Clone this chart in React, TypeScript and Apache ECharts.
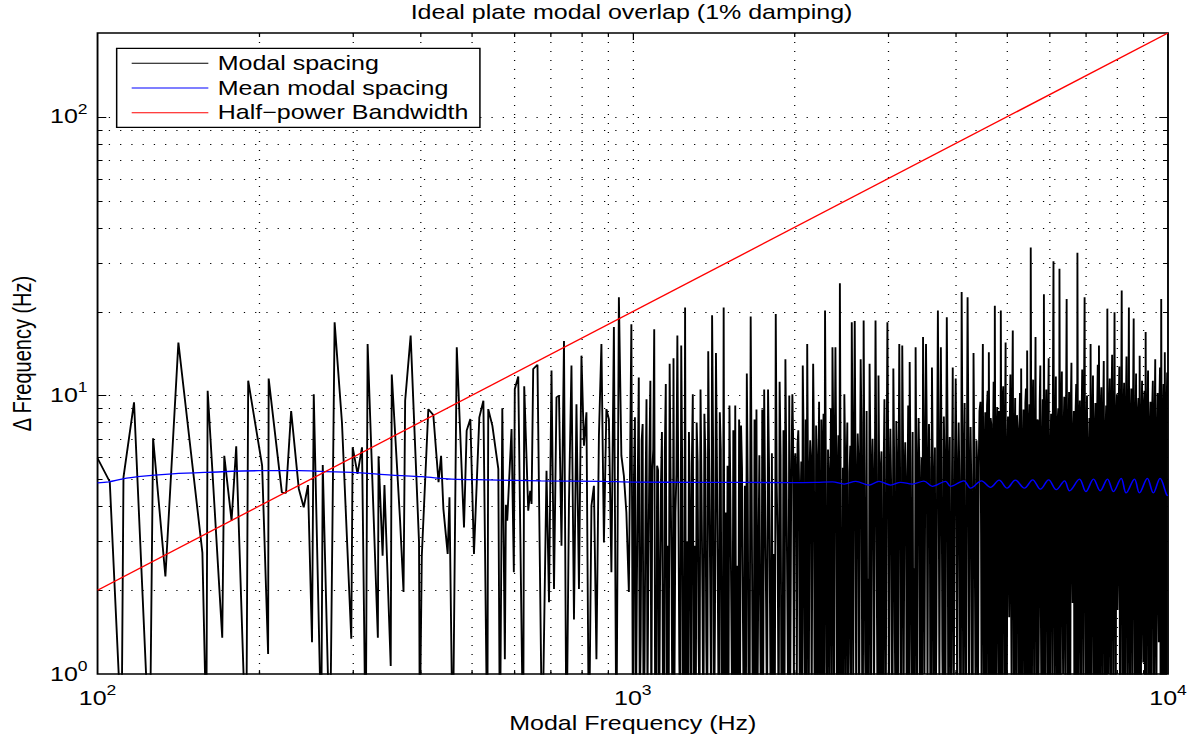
import React, { useEffect, useRef } from "react";
import * as echarts from "echarts";

const FONT = '"Liberation Sans", Arial, Helvetica, sans-serif';
const PAGE_W = 1193;
const CHART_W = 954;
const CHART_H = 738;
const STRETCH = PAGE_W / CHART_W;

const TITLE = "Ideal plate modal overlap (1% damping)";
const X_NAME = "Modal Frequency (Hz)";
const Y_NAME = "\u0394 Frequency (Hz)";
const SERIES_NAMES = ["Modal spacing", "Mean modal spacing", "Half\u2212power Bandwidth"];

const X_RANGE = [100, 10000];
const Y_RANGE = [1, 200];
const X_GRID_MAJOR = [1000];
const X_GRID_MINOR = [200, 300, 400, 500, 600, 700, 800, 900, 2000, 3000, 4000, 5000, 6000, 7000, 8000, 9000];
const Y_GRID_MAJOR = [10, 100];
const Y_GRID_MINOR = [2, 3, 4, 5, 6, 7, 8, 9, 20, 30, 40, 50, 60, 70, 80, 90];

// Modal spacing (Hz) read pair-by-pair in the sparse low-frequency part
const modalSpacingLow: [number, number][] = [
  [100, 5.95], [105.4, 4.9], [110.9, 0.6], [111.8, 5.08], [117, 9.45], [125.2, 0.5], [127, 7.02],
  [133.9, 2.24], [141.6, 15.5], [157, 2.73], [159.7, 0.6], [160.6, 10.4], [171, 1.35], [172.5, 6.08],
  [178, 3.55], [181.6, 6.57], [189.6, 0.5], [191.2, 11.3], [203, 5.6], [208.3, 1.18], [208.8, 11.5],
  [221, 4.49], [225, 4.47], [230, 8.8], [237.7, 4.62], [242.8, 3.97], [247.3, 4.77], [251.6, 1.3],
  [253.5, 10.1], [261.8, 0.6], [263.5, 5.63], [271.8, 0.5], [277.3, 18.3], [286.2, 8.0], [297.9, 1.34],
  [299.7, 6.52], [306, 5.23], [312, 6.52], [317, 0.5], [319.6, 15.3], [334, 1.35], [335, 6.05],
  [340.9, 2.66], [343.6, 4.77], [353, 1.07], [354.6, 11.9], [367.5, 3.55], [373, 1.97], [375.6, 9.58],
  [384.6, 16.4], [398.7, 2.97], [400, 0.6], [403.5, 2.66], [415, 8.94], [424, 8.51], [433.6, 4.88],
  [438.4, 6.08], [442.8, 3.91], [451, 2.7], [454.5, 4.31], [461, 0.5], [469, 14.9], [483.8, 3.36],
  [489.4, 7.48], [497.2, 8.23], [505, 2.7], [516.8, 8.35], [525.9, 9.58], [534.9, 0.5], [537, 8.94],
  [546.6, 7.79], [560.8, 5.45], [564.7, 0.5], [570.5, 9.0], [576.8, 1.13], [579.4, 4.05], [582.7, 3.55],
  [593.6, 7.58], [599.5, 2.32], [602, 10.55], [611, 11.7], [624.2, 0.5], [626.9, 10.8], [637.8, 3.86],
  [643.3, 4.55], [647, 4.08], [651.6, 12.45], [663.7, 12.9], [677.3, 0.5],
];

// Dense part: frequency band limits (Hz) and the spacing values read across each band.
// Bands 2-4 are read as two interleaved passes (A: visible spikes/dips, B: values between them).
const bandRanges: [number, number][] = [[690, 994], [1001, 1977], [1987, 4444], [4463, 9966]];
const modalBand1 = [
  5.37, 1.81, 12.3, 2.02, 9.85, 10.0, 2.89, 15.7, 0.5, 4.14, 12.8, 1.57, 9.3, 2.02, 13.9, 6.6, 8.7, 0.5,
  4.02, 4.74, 1.13, 7.18, 15.3, 2.97, 8.94, 8.23, 2.32, 17.6, 0.5, 22.5, 6.08, 5.15, 3.8, 1.97, 18.0,
];
const modalBand2A = [
  0.5, 8.35, 2.02, 11.6, 1.34, 7.9, 1.13, 9.7, 2.52, 11.3, 5.4, 17.3, 0.5, 5.4, 2.02, 7.4, 0.5, 11.0,
  2.89, 13.0, 2.19, 13.6, 3.8, 16.4, 1.13, 15.1, 0.5, 20.7, 3.0, 7.4, 0.5, 10.1, 2.89, 8.0, 1.3, 10.5,
  1.9, 8.6, 1.3, 14.4, 2.19, 19.4, 0.5, 14.2, 1.85, 8.7, 0.5, 20.7, 3.8, 5.6, 9.2, 1.53, 7.5, 9.2, 2.45,
  8.2, 7.8, 1.53, 4.74, 12.0, 0.5, 19.2, 0.9, 8.2, 8.9, 2.52, 1.34, 8.9, 10.5, 1.75, 10.5, 1.79, 6.2,
  2.7, 19.6, 2.89, 11.2, 0.5, 7.5, 13.5, 1.85, 10.0, 4.74,
];
const modalBand2B = [
  5.1, 0.6, 5.2, 0.7, 6.9, 0.5, 4.4, 0.8, 6.0, 0.6, 6.4, 0.6, 5.6, 0.5, 4.8, 0.9, 6.3, 0.6, 0.7, 5.1,
  0.5, 0.9, 5.2, 4.6, 0.6, 5.6, 0.7, 0.6, 0.5, 4.0, 5.7, 0.6, 0.5, 5.8, 0.7, 4.9, 0.5, 6.2, 0.6, 5.5,
  0.7, 7.0, 1.6, 5.8, 0.5, 6.4, 0.6, 0.6, 0.5, 0.8, 4.2, 0.6, 0.5, 0.7, 0.5, 0.9, 5.5, 0.5, 0.6, 4.5,
  0.9, 5.0, 0.5, 0.6, 0.7, 6.1, 0.5, 0.9, 4.1, 0.6, 5.7, 0.5, 0.7, 0.6, 4.8, 0.5, 6.1, 0.7, 0.6, 5.3,
  0.6, 0.8,
];
const modalBand3A = [
  10.1, 0.8, 6.2, 0.9, 7.5, 0.6, 5.8, 12.8, 1.4, 8.2, 15.3, 0.5, 6.9, 0.7, 13.0, 0.7, 7.8, 0.6, 9.5, 1.5,
  0.5, 8.6, 20.2, 1.1, 6.4, 0.8, 9.0, 14.9, 0.6, 14.9, 0.6, 7.2, 25.3, 0.5, 5.5, 10.1, 0.7, 8.0, 1.2, 6.6,
  18.3, 0.9, 18.5, 0.6, 7.3, 0.5, 13.5, 0.9, 18.6, 1.2, 8.8, 2.2, 13.0, 0.6, 7.0, 0.7, 18.6, 1.5, 11.8, 0.5,
  6.3, 0.8, 9.7, 1.0, 18.3, 0.6, 7.6, 0.7, 12.5, 1.4, 8.1, 0.5, 15.3, 0.6, 15.1, 0.9, 6.8, 0.6, 9.2, 13.2,
  1.3, 7.4, 2.4, 14.9, 0.5, 8.3, 0.6, 6.0, 16.2, 1.0, 15.3, 0.8, 7.9, 0.5, 12.6, 0.7, 6.5, 1.4, 20.2, 0.8,
  14.9, 1.2, 8.4, 0.5, 19.1, 0.6, 7.1, 1.1, 12.6, 1.6, 11.5, 0.6, 8.0, 0.7, 23.5, 0.9, 9.4, 0.8, 22.5, 0.5,
  7.7, 0.6, 14.2, 1.9, 6.9, 0.7, 8.8,
];
const modalBand3B = [
  7.1, 5.5, 4.8, 6.7, 4.9, 4.0, 0.7, 7.5, 0.6, 0.9, 5.3, 5.0, 5.9, 4.2, 7.0, 0.6, 5.9, 4.6, 0.6, 8.2,
  6.0, 0.6, 6.2, 0.5, 5.2, 4.4, 0.8, 7.8, 5.7, 6.5, 4.9, 0.5, 5.1, 0.9, 0.6, 6.4, 5.3, 0.7, 5.3, 0.5,
  7.4, 5.6, 5.8, 4.1, 5.8, 4.7, 8.0, 0.6, 5.4, 0.7, 0.6, 0.9, 6.6, 5.1, 4.7, 4.3, 6.1, 0.5, 5.0, 5.4,
  0.6, 5.5, 0.7, 5.9, 7.1, 4.5, 4.8, 0.9, 6.3, 0.6, 5.6, 4.8, 5.7, 0.8, 7.2, 5.0, 4.6, 4.2, 0.5, 6.0,
  0.6, 0.7, 0.9, 5.2, 5.3, 5.6, 4.0, 0.6, 6.8, 5.8, 7.6, 4.7, 5.5, 0.9, 6.1, 4.4, 0.6, 6.0, 6.9, 4.1,
  5.9, 0.6, 5.7, 4.5, 7.7, 5.2, 0.7, 5.1, 0.6, 5.8, 5.9, 4.3, 4.9, 0.8, 7.3, 5.4, 0.6, 5.4, 7.9, 4.6,
  4.8, 0.9, 6.5, 0.6, 5.6, 5.5,
];
const modalBand4A = [
  9.5, 0.6, 15.3, 0.7, 8.7, 0.5, 10.4, 14.3, 0.8, 7.9, 0.5, 11.2, 21.0, 0.5, 9.1, 0.9, 7.2, 20.2, 0.7, 10.8,
  0.6, 15.5, 0.5, 8.4, 1.6, 11.9, 0.9, 17.1, 0.5, 9.8, 0.7, 7.6, 0.6, 10.2, 12.5, 0.8, 8.9, 0.5, 10.6, 14.5,
  0.5, 9.3, 34.0, 0.7, 11.4, 0.6, 16.2, 0.5, 8.1, 2.1, 12.8, 0.6, 9.7, 23.1, 0.9, 10.5, 0.6, 13.6, 0.5, 8.6,
  0.8, 30.3, 0.6, 11.7, 0.5, 9.0, 28.5, 0.5, 12.2, 1.0, 9.9, 0.7, 22.2, 0.6, 10.3, 0.5, 13.1, 1.8, 8.8, 0.8,
  11.0, 32.5, 0.5, 9.6, 0.7, 12.4, 0.6, 22.5, 0.9, 10.0, 0.5, 8.3, 15.3, 0.9, 11.8, 0.6, 9.4, 0.5, 12.9, 15.1,
  0.7, 10.7, 0.5, 13.3, 0.5, 9.2, 20.5, 1.0, 11.5, 0.6, 14.0, 0.7, 19.9, 0.5, 10.1, 2.5, 12.7, 0.8, 23.8, 0.5,
  11.1, 0.6, 13.8, 0.6, 20.7, 0.7, 10.6, 0.5, 18.9, 0.9, 12.0, 0.6, 9.8, 13.9, 0.5, 11.3, 1.1, 10.4, 16.9, 0.7,
  12.3, 0.5, 9.5, 0.5, 11.3, 0.8, 13.5, 0.6, 10.2, 1.3, 12.6, 22.2, 0.5, 11.0, 14.3, 0.8, 12.1,
];
const modalBand4B = [
  3.2, 7.8, 2.1, 6.4, 0.5, 9.2, 0.6, 4.5, 8.3, 0.6, 6.9, 0.7, 3.7, 7.1, 1.9, 8.8, 0.5, 4.9, 9.6, 2.6,
  7.5, 1.3, 6.2, 3.0, 8.0, 2.2, 9.1, 3.5, 6.7, 1.4, 8.5, 2.8, 7.3, 0.5, 3.9, 6.1, 1.7, 9.4, 0.6, 4.2,
  7.7, 0.8, 5.3, 8.6, 2.0, 7.0, 3.3, 8.2, 0.9, 9.5, 1.6, 6.6, 0.5, 4.0, 7.9, 2.4, 8.7, 1.2, 6.3, 3.1,
  9.8, 2.7, 7.4, 1.8, 8.1, 0.6, 4.6, 9.0, 2.3, 7.6, 1.5, 8.4, 3.6, 6.8, 1.1, 9.3, 2.9, 7.2, 0.5, 8.9,
  0.6, 4.4, 7.8, 1.9, 8.3, 2.5, 9.7, 3.4, 7.1, 1.3, 6.5, 0.6, 4.8, 8.0, 2.1, 7.7, 1.0, 8.8, 0.7, 3.8,
  9.1, 1.6, 8.5, 2.6, 7.3, 0.5, 4.1, 8.6, 1.4, 9.6, 2.2, 7.5, 3.0, 8.2, 1.7, 9.3, 0.9, 7.9, 3.7, 8.7,
  1.2, 9.0, 2.8, 7.4, 1.5, 8.4, 2.0, 9.9, 3.2, 7.0, 1.1, 8.8, 0.6, 4.3, 7.6, 1.8, 9.4, 0.5, 3.5, 8.3,
  2.4, 7.8, 1.3, 9.2, 2.9, 8.0, 1.6, 7.3, 2.2, 9.5, 0.6, 3.9, 8.1, 0.7, 4.7, 8.9,
];

// Mean modal spacing (Hz)
const meanSpacing: [number, number][] = [
  [100, 4.86], [105, 4.9], [111, 5.01], [119, 5.11], [138, 5.23], [161, 5.3], [200, 5.37], [238, 5.37],
  [266, 5.33], [298, 5.3], [355, 5.18], [404, 5.11], [459, 5.01], [536, 4.98], [674, 4.94], [875, 4.92],
  [1000, 4.89], [1340, 4.88], [1980, 4.87], [2200, 4.88], [2361, 4.9], [2482, 4.81], [2610, 4.92],
  [2763, 4.77], [2884, 4.92], [3033, 4.77], [3166, 4.88], [3329, 4.81], [3499, 4.93], [3628, 4.72],
  [3840, 4.92], [3923, 4.72], [4155, 4.94], [4276, 4.65], [4482, 4.94], [4659, 4.68], [4836, 4.97],
  [5005, 4.65], [5186, 4.97], [5391, 4.65], [5587, 4.98], [5775, 4.61], [5984, 4.98], [6184, 4.59],
  [6408, 4.94], [6547, 4.55], [6834, 5.01], [7024, 4.52], [7258, 5.01], [7470, 4.55], [7708, 5.01],
  [7909, 4.52], [8176, 5.04], [8353, 4.47], [8657, 5.01], [8844, 4.47], [9150, 5.04], [9389, 4.47],
  [9663, 5.04], [9943, 4.4], [10000, 4.37],
];

// Half-power bandwidth (Hz) = 2 * 1% * f
const halfPowerBandwidth: [number, number][] = [[100, 2], [10000, 200]];

function interleave(a: number[], b: number[]): number[] {
  const out: number[] = [];
  a.forEach((v, i) => {
    out.push(v);
    if (i < b.length) out.push(b[i]);
  });
  return out;
}

function bandPoints(range: [number, number], values: number[]): [number, number][] {
  const [f0, f1] = range;
  const n = values.length;
  return values.map((v, i) => [f0 * Math.pow(f1 / f0, i / (n - 1)), v]);
}

function isPow10(v: number) {
  const e = Math.log10(v);
  return Math.abs(e - Math.round(e)) < 1e-6;
}

function gridRenderer(orient: "v" | "h", tickLen: number) {
  return (params: any, api: any) => {
    const cs = params.coordSys;
    const lines: any[] = [];
    const dot = { stroke: "#000", lineWidth: 1, lineDash: [1, 8] };
    const solid = { stroke: "#000", lineWidth: 1 };
    if (orient === "v") {
      const x = Math.round(api.coord([api.value(0), 10])[0]) + 0.5;
      const y0 = cs.y, y1 = cs.y + cs.height;
      lines.push({ type: "line", shape: { x1: x, y1: y0, x2: x, y2: y1 }, style: dot });
      lines.push({ type: "line", shape: { x1: x, y1: y1, x2: x, y2: y1 - tickLen }, style: solid });
      lines.push({ type: "line", shape: { x1: x, y1: y0, x2: x, y2: y0 + tickLen }, style: solid });
    } else {
      const y = Math.round(api.coord([1000, api.value(1)])[1]) + 0.5;
      const x0 = cs.x, x1 = cs.x + cs.width;
      lines.push({ type: "line", shape: { x1: x0, y1: y, x2: x1, y2: y }, style: dot });
      lines.push({ type: "line", shape: { x1: x0, y1: y, x2: x0 + tickLen, y2: y }, style: solid });
      lines.push({ type: "line", shape: { x1: x1, y1: y, x2: x1 - tickLen, y2: y }, style: solid });
    }
    return { type: "group", children: lines, silent: true };
  };
}

export default function App() {
  const ref = useRef<HTMLDivElement>(null);

  useEffect(() => {
    if (!ref.current) return;
    const chart = echarts.init(ref.current, null, { renderer: "svg" });

    const modalData: [number, number][] = [
      ...modalSpacingLow,
      ...bandPoints(bandRanges[0], modalBand1),
      ...bandPoints(bandRanges[1], interleave(modalBand2A, modalBand2B)),
      ...bandPoints(bandRanges[2], interleave(modalBand3A, modalBand3B)),
      ...bandPoints(bandRanges[3], interleave(modalBand4A, modalBand4B)),
    ];

    const labelRich = {
      b: { fontSize: 20, fontFamily: FONT, color: "#000" },
      s: { fontSize: 14, fontFamily: FONT, color: "#000", padding: [0, 0, 16, 0] },
    };
    const powFormatter = (v: number) =>
      isPow10(v) ? `{b|10}{s|${Math.round(Math.log10(v))}}` : "";

    const gridLeft = 76, gridRight = 20, gridTop = 33, gridBottom = 63;
    const plotCenterX = gridLeft + (CHART_W - gridLeft - gridRight) / 2;

    chart.setOption({
      animation: false,
      textStyle: { fontFamily: FONT },
      grid: {
        left: gridLeft, right: gridRight, top: gridTop, bottom: gridBottom,
        show: true, borderColor: "#000", borderWidth: 1.5, backgroundColor: "#fff",
      },
      graphic: [
        {
          type: "text", x: plotCenterX, y: 12.5, silent: true,
          style: { text: TITLE, fontSize: 20, fontFamily: FONT, fill: "#000", align: "center", verticalAlign: "middle" },
        },
      ],
      legend: {
        data: SERIES_NAMES,
        orient: "vertical",
        left: 93.3, top: 48.3,
        icon: "rect", itemWidth: 61.3, itemHeight: 1, itemGap: 4.7,
        padding: [5, 9, 4.6, 12],
        backgroundColor: "#fff", borderColor: "#000", borderWidth: 1.2, borderRadius: 0,
        selectedMode: false,
        textStyle: { fontFamily: FONT, fontSize: 20, lineHeight: 20, color: "#000", padding: [0, 0, 0, 2.5] },
      },
      xAxis: {
        type: "log", logBase: 10, min: X_RANGE[0], max: X_RANGE[1],
        name: X_NAME, nameLocation: "middle", nameGap: 38,
        nameTextStyle: { fontSize: 20, fontFamily: FONT, color: "#000" },
        axisLine: { show: false }, axisTick: { show: false }, splitLine: { show: false },
        axisLabel: { formatter: powFormatter, rich: labelRich, margin: 9, showMinLabel: true, showMaxLabel: true, hideOverlap: false },
      },
      yAxis: {
        type: "log", logBase: 10, min: Y_RANGE[0], max: Y_RANGE[1],
        name: Y_NAME, nameLocation: "middle", nameGap: 50,
        nameTextStyle: { fontSize: 20, fontFamily: FONT, color: "#000" },
        axisLine: { show: false }, axisTick: { show: false }, splitLine: { show: false },
        axisLabel: { formatter: powFormatter, rich: labelRich, margin: 8, showMinLabel: true, hideOverlap: false },
      },
      series: [
        { type: "custom", coordinateSystem: "cartesian2d", renderItem: gridRenderer("v", 4), data: X_GRID_MINOR.map((f) => [f, 10]), silent: true, z: 1 },
        { type: "custom", coordinateSystem: "cartesian2d", renderItem: gridRenderer("v", 7), data: X_GRID_MAJOR.map((f) => [f, 10]), silent: true, z: 1 },
        { type: "custom", coordinateSystem: "cartesian2d", renderItem: gridRenderer("h", 4), data: Y_GRID_MINOR.map((v) => [1000, v]), silent: true, z: 1 },
        { type: "custom", coordinateSystem: "cartesian2d", renderItem: gridRenderer("h", 7), data: Y_GRID_MAJOR.map((v) => [1000, v]), silent: true, z: 1 },
        {
          name: SERIES_NAMES[0], type: "line", data: modalData, showSymbol: false, symbol: "none",
          color: "#000", itemStyle: { color: "#000" }, lineStyle: { color: "#000", width: 1.5 }, clip: true, silent: true, z: 3,
        },
        {
          name: SERIES_NAMES[1], type: "line", data: meanSpacing, showSymbol: false, symbol: "none", smooth: 0.35,
          color: "#0000ff", itemStyle: { color: "#0000ff" }, lineStyle: { color: "#0000ff", width: 1.3 }, clip: true, silent: true, z: 4,
        },
        {
          name: SERIES_NAMES[2], type: "line", data: halfPowerBandwidth, showSymbol: false, symbol: "none",
          color: "#ff0000", itemStyle: { color: "#ff0000" }, lineStyle: { color: "#ff0000", width: 1.3 }, clip: true, silent: true, z: 5,
        },
      ],
    });

    return () => chart.dispose();
  }, []);

  return (
    <div
      ref={ref}
      style={{
        position: "fixed", left: 0, top: 0, width: CHART_W, height: CHART_H,
        transform: `scaleX(${STRETCH})`, transformOrigin: "0 0", background: "#fff",
      }}
    />
  );
}
